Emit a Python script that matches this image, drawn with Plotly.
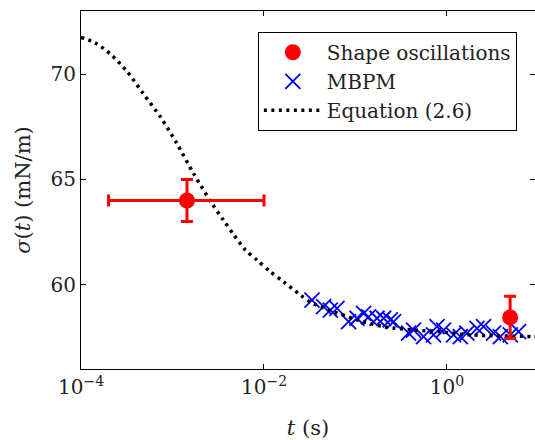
import plotly.graph_objects as go

# Shape-oscillation measurements (t in s, sigma in mN/m) with error bars
osc_t = [1.44e-3, 4.9]
osc_sigma = [64.0, 58.45]
osc_sigma_err = [1.0, 1.0]
osc_t_err_plus = [8.56e-3, 0.0]
osc_t_err_minus = [1.24e-3, 0.0]

# Maximum bubble pressure method (MBPM) measurements
mbpm_t = [0.0335, 0.0448, 0.0531, 0.0628, 0.0841, 0.1038, 0.1227, 0.139,
          0.172, 0.203, 0.240, 0.261, 0.380, 0.431, 0.555, 0.713, 0.778,
          0.918, 1.18, 1.40, 1.65, 2.13, 2.51, 3.23, 3.83, 4.92, 6.06]
mbpm_sigma = [59.27, 58.96, 58.80, 58.88, 58.25, 58.41, 58.64, 58.48,
              58.41, 58.41, 58.33, 58.25, 57.70, 57.85, 57.54, 57.62, 58.01,
              57.85, 57.62, 57.54, 57.70, 57.93, 58.01, 57.70, 57.54, 57.62,
              57.77]

# Equation (2.6) sampled along t
eq_t = [1.0e-4, 1.43e-4, 2.1e-4, 3.2e-4, 4.8e-4, 7.4e-4, 1.12e-3, 1.7e-3,
        2.7e-3, 3.6e-3, 4.7e-3, 6.3e-3, 8.4e-3, 1.17e-2, 1.64e-2, 2.5e-2,
        3.5e-2, 5.8e-2, 0.104, 0.203, 0.43, 0.85, 1.8, 8.8, 10.0]
eq_sigma = [71.75, 71.48, 70.95, 70.12, 69.07, 67.96, 66.70, 65.28,
            63.86, 63.07, 62.36, 61.64, 61.17, 60.62, 60.14, 59.51,
            59.09, 58.72, 58.33, 58.01, 57.85, 57.77, 57.62, 57.54, 57.53]

x_tickvals = [1e-4, 1e-2, 1]
x_ticktext = ["10<sup>−4</sup>", "10<sup>−2</sup>", "10<sup>0</sup>"]
y_tickvals = [60, 65, 70]

FONT = "DejaVu Serif"
INK = "#222222"

fig = go.Figure()

fig.add_trace(go.Scatter(
    x=mbpm_t, y=mbpm_sigma, mode="markers", name="MBPM", legendrank=2,
    marker=dict(symbol="x-thin-open", size=15, color="#0000ff",
                line=dict(color="#0000ff", width=1.8)),
))

fig.add_trace(go.Scatter(
    x=eq_t, y=eq_sigma, mode="lines", name="Equation (2.6)", legendrank=3,
    line=dict(color="black", width=3.5, dash="3px,4.5px", shape="spline",
              smoothing=0.8),
))

fig.add_trace(go.Scatter(
    x=osc_t, y=osc_sigma, mode="markers", name="Shape oscillations",
    legendrank=1,
    marker=dict(symbol="circle", size=16, color="#ff0000"),
    error_y=dict(type="data", array=osc_sigma_err, color="#ff0000",
                 thickness=3, width=6),
    error_x=dict(type="data", array=osc_t_err_plus,
                 arrayminus=osc_t_err_minus, color="#ff0000",
                 thickness=3, width=6),
))

axis_common = dict(
    showline=True, linecolor="black", linewidth=1.2, mirror="ticks",
    ticks="inside", ticklen=5, tickwidth=1, tickcolor="black",
    showgrid=False, zeroline=False,
    tickfont=dict(family=FONT, size=20, color=INK),
)

fig.update_xaxes(
    type="log", range=[-4, 0.962], tickvals=x_tickvals, ticktext=x_ticktext,
    title=dict(text="<i>t</i> (s)", font=dict(family=FONT, size=21,
                                               color=INK), standoff=22),
    **axis_common,
)
fig.update_yaxes(
    range=[56, 73], tickvals=y_tickvals,
    title=dict(text="<i>σ</i>(<i>t</i>) (mN/m)",
               font=dict(family=FONT, size=21, color=INK), standoff=14),
    **axis_common,
)

fig.update_layout(
    width=535, height=440,
    margin=dict(l=81, r=0, t=11, b=71),
    plot_bgcolor="white", paper_bgcolor="white",
    font=dict(family=FONT, color=INK),
    legend=dict(
        x=0.96, xanchor="right", y=0.942, yanchor="top",
        bordercolor="black", borderwidth=1, bgcolor="white",
        font=dict(family=FONT, size=20, color=INK),
        itemwidth=58, tracegroupgap=0,
    ),
)

fig.write_html("out.html")
